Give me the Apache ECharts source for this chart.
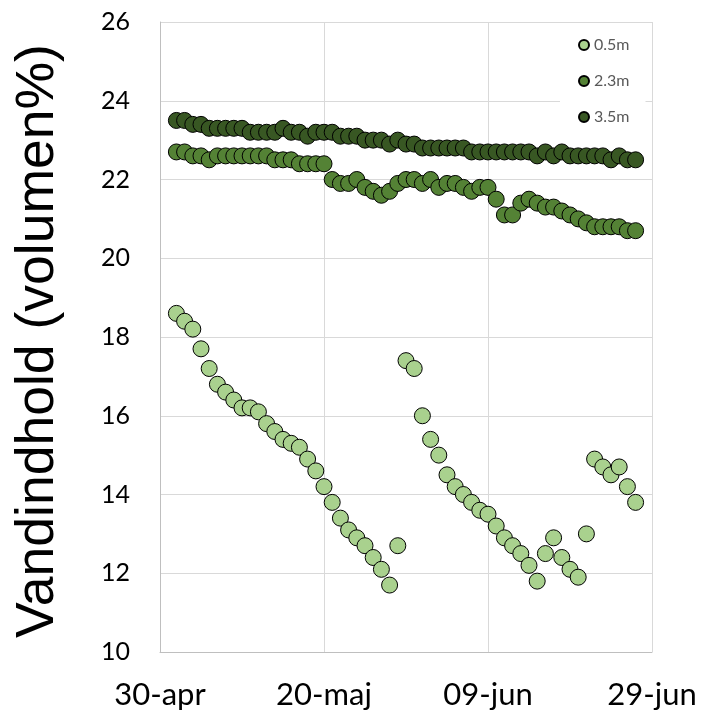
<!DOCTYPE html>
<html>
<head>
<meta charset="utf-8">
<script src="https://cdn.jsdelivr.net/npm/echarts@6/dist/echarts.min.js"></script>
<style>
html,body{margin:0;padding:0;background:#fff;}
#chart{width:701px;height:718px;}
</style>
</head>
<body>
<div id="chart"></div>
<script>
// Days since 30-apr for each measurement
var dayOffsets = [2,3,4,5,6,7,8,9,10,11,12,13,14,15,16,17,18,19,20,21,22,23,24,25,26,27,28,29,30,31,32,33,34,35,36,37,38,39,40,41,42,43,44,45,46,47,48,49,50,51,52,53,54,55,56,57,58];
var xTickLabels = ['30-apr','20-maj','09-jun','29-jun'];
var seriesNames = ['0.5m','2.3m','3.5m'];
var yTitle = 'Vandindhold (volumen%)';
var v05 = [18.6,18.4,18.2,17.7,17.2,16.8,16.6,16.4,16.2,16.2,
           16.1,15.8,15.6,15.4,15.3,15.2,14.9,14.6,14.2,13.8,
           13.4,13.1,12.9,12.7,12.4,12.1,11.7,12.7,17.4,17.2,
           16.0,15.4,15.0,14.5,14.2,14.0,13.8,13.6,13.5,13.2,
           12.9,12.7,12.5,12.2,11.8,12.5,12.9,12.4,12.1,11.9,
           13.0,14.9,14.7,14.5,14.7,14.2,13.8];
var v23 = [22.7,22.7,22.6,22.6,22.5,22.6,22.6,22.6,22.6,22.6,
           22.6,22.6,22.5,22.5,22.5,22.4,22.4,22.4,22.4,22.0,
           21.9,21.9,22.0,21.8,21.7,21.6,21.7,21.9,22.0,22.0,
           21.9,22.0,21.8,21.9,21.9,21.8,21.7,21.8,21.8,21.5,
           21.1,21.1,21.4,21.5,21.4,21.3,21.3,21.2,21.1,21.0,
           20.9,20.8,20.8,20.8,20.8,20.7,20.7];
var v35 = [23.5,23.5,23.4,23.4,23.3,23.3,23.3,23.3,23.3,23.2,
           23.2,23.2,23.2,23.3,23.2,23.2,23.1,23.2,23.2,23.2,
           23.1,23.1,23.1,23.0,23.0,23.0,22.9,23.0,22.9,22.9,
           22.8,22.8,22.8,22.8,22.8,22.8,22.7,22.7,22.7,22.7,
           22.7,22.7,22.7,22.7,22.6,22.7,22.6,22.7,22.6,22.6,
           22.6,22.6,22.6,22.5,22.6,22.5,22.5];
var colors = ['#a9d18e','#548235','#385723'];

function pairs(vals){ return dayOffsets.map(function(d,i){ return [d, vals[i]]; }); }

var chart = echarts.init(document.getElementById('chart'), null, {renderer:'canvas'});
var allVals = [v05, v23, v35];
chart.setOption({
  animation:false,
  backgroundColor:'#ffffff',
  grid:{left:160, right:49, top:22, bottom:66, containLabel:false, outerBoundsMode:'none'},
  xAxis:{
    type:'value', min:0, max:60, interval:20,
    axisLine:{show:true, lineStyle:{color:'#bfbfbf', width:1}},
    axisTick:{show:false},
    splitLine:{show:true, lineStyle:{color:'#d9d9d9', width:1}},
    axisLabel:{
      margin:27, color:'#000', fontFamily:'Lato', fontSize:31,
      formatter:function(v){ return xTickLabels[Math.round(v/20)]; }
    }
  },
  yAxis:{
    type:'value', min:10, max:26, interval:2,
    axisLine:{show:true, lineStyle:{color:'#bfbfbf', width:1}},
    axisTick:{show:false},
    splitLine:{show:true, lineStyle:{color:'#d9d9d9', width:1}},
    axisLabel:{margin:30, color:'#000', fontFamily:'Lato', fontSize:25}
  },
  graphic:[{
    type:'text', x:38, y:341, rotation:Math.PI/2,
    style:{text:yTitle, fontFamily:'Liberation Sans', fontSize:53.5, fill:'#000',
           textAlign:'center', textVerticalAlign:'middle'}
  }],
  legend:{
    show:true, orient:'vertical', left:560, top:23,
    padding:[14,16,14,18], itemGap:20, itemWidth:10, itemHeight:10,
    backgroundColor:'#ffffff',
    icon:'circle',
    textStyle:{fontFamily:'Lato', fontSize:16, color:'#595959', lineHeight:16},
    data:seriesNames
  },
  series: seriesNames.map(function(n, k){
    return {
      name:n, type:'scatter', symbol:'circle', symbolSize:16,
      itemStyle:{color:colors[k], borderColor:'#000', borderWidth:1, opacity:1},
      data: pairs(allVals[k])
    };
  })
});
</script>
</body>
</html>
